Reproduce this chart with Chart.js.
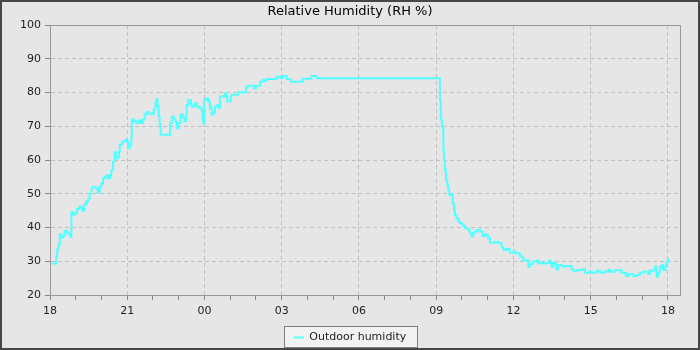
<!DOCTYPE html>
<html>
<head>
<meta charset="utf-8">
<script src="https://cdn.jsdelivr.net/npm/chart.js@4/dist/chart.umd.min.js"></script>
<style>
body{margin:0;background:#fff;}
#wrap{position:relative;width:700px;height:350px;background:#e6e6e6;}
#wrap canvas{position:absolute;left:0;top:0;}
#frame{position:absolute;left:0;top:0;width:700px;height:350px;box-sizing:border-box;border:2px solid #474747;pointer-events:none;}
</style>
</head>
<body>
<div id="wrap">
  <canvas id="myChart" width="700" height="350"></canvas>
  <div id="frame"></div>
</div>
<script>
// hours since 18:00, and the reading that starts at that time
const hours=[0.05,0.24,0.28,0.33,0.38,0.43,0.50,0.57,0.66,0.72,0.80,0.83,0.90,0.98,1.05,1.14,1.20,1.26,1.32,1.40,
1.48,1.54,1.61,1.66,1.80,1.86,1.93,1.99,2.06,2.12,2.18,2.25,2.33,2.38,2.45,2.51,2.56,2.64,2.68,2.71,
2.78,2.83,2.93,2.98,3.03,3.10,3.16,3.18,3.26,3.35,3.45,3.52,3.60,3.68,3.75,3.81,3.95,4.03,4.10,4.13,
4.18,4.22,4.26,4.30,4.66,4.73,4.82,4.87,4.92,4.98,5.07,5.17,5.22,5.28,5.31,5.37,5.47,5.50,5.58,5.63,
5.70,5.80,5.89,5.93,5.95,5.99,6.08,6.15,6.21,6.28,6.35,6.41,6.50,6.54,6.60,6.75,6.80,6.84,6.88,7.02,
7.05,7.31,7.61,7.70,7.92,8.00,8.16,8.26,8.35,8.41,8.80,8.93,9.03,9.19,9.35,9.81,10.16,10.36,15.15,15.18,
15.22,15.26,15.28,15.30,15.34,15.38,15.43,15.47,15.51,15.60,15.64,15.69,15.73,15.79,15.86,15.92,15.99,16.05,16.12,16.25,
16.31,16.38,16.44,16.50,16.60,16.70,16.80,16.90,16.96,17.02,17.09,17.30,17.40,17.48,17.54,17.61,17.75,17.86,18.00,18.10,
18.25,18.38,18.50,18.58,18.64,18.77,18.90,18.96,19.03,19.15,19.25,19.39,19.44,19.48,19.55,19.62,19.68,19.74,19.87,19.94,
20.00,20.26,20.32,20.50,20.71,20.78,20.95,21.05,21.23,21.36,21.55,21.68,21.75,21.95,22.14,22.20,22.37,22.46,22.65,22.80,
22.91,23.04,23.24,23.30,23.45,23.50,23.56,23.62,23.69,23.76,23.82,23.90,23.95,24.01,24.05];
const humidity=[29.3,31.5,33.5,35,38,37,37.5,39,38.5,38,37.2,44.5,43.8,44.3,45.5,46.2,45.8,45,46.8,47.8,
48.5,50,51.5,52,51.5,50.3,52,53,54.5,55,55.5,54.5,55.5,57,59.5,62.3,60.5,61,62.5,64.5,
65,65.5,66,65.5,63.5,64.5,67,72,71.5,71,71.8,71,72,73.5,74.2,73.8,73.6,75,77,78,
76,73,70.5,67.5,70.9,72.8,72,71.4,69.4,71,73.5,72.5,71.5,73,76.3,77.8,76.5,75.8,76.2,76.8,
75.8,75.5,74.3,72,70.9,77.8,78.3,77.3,75.3,73.5,74,75.8,76.3,75.5,78.8,79,79.8,78.8,77.3,78.8,
79.3,80.1,81.7,82,81.2,82,83.2,83.7,83.4,84,84.7,84.2,84.9,84,83.2,84.1,84.9,84.2,77.8,71.9,
70,69,63,60,57,54,52.6,51.1,49.6,49.8,47.2,45.2,43.7,42.7,41.7,41.3,41,40.5,39.8,39.2,
38.3,37.3,38.3,38.8,39.3,38.8,37.5,38,37.6,36.8,35.5,35.7,35.5,35.3,34.3,33.3,33.6,32.5,32.8,32.4,
31.4,30.2,30.3,28.4,29.2,29.9,30.2,29.4,29.6,29.3,29.5,30.2,29.5,28.4,29.6,29.2,27.6,28.9,28.7,28.4,
28.6,27.6,27.2,27.4,27.6,26.6,27,26.6,27.2,26.6,27,27.4,26.9,27.3,27.4,26.6,25.6,26.2,25.6,25.9,
26.6,26.9,26.2,27.2,27.5,28.4,25.4,26.6,28.4,28.9,27.4,28.4,29.9,30.7,30.7];
// x axis: labelled every 3 hours starting at 18
const hourLabels=['18','21','00','03','06','09','12','15','18'];
const yTicks=[20,30,40,50,60,70,80,90,100];

const font={family:'DejaVu Sans',size:11};
const points=hours.map((h,i)=>({x:h,y:humidity[i]}));

// border round the plot area (top and right too) plus the legend box
const frames={
    id:'frames',
    beforeDraw(chart){
        const c=chart.ctx;
        const lg=chart.legend;
        if(lg&&lg.legendHitBoxes.length){
            const hb=lg.legendHitBoxes[0];
            const x=Math.round(hb.left-10)+0.5, y=Math.round(hb.top-6)+0.5;
            const w=Math.round(hb.width+21), h=21;
            c.save();
            c.fillStyle='#f2f2f2';
            c.fillRect(x,y,w,h);
            c.strokeStyle='#808080';
            c.lineWidth=1;
            c.strokeRect(x,y,w,h);
            c.restore();
        }
    },
    beforeDatasetsDraw(chart){
        const a=chart.chartArea, c=chart.ctx;
        c.save();
        c.strokeStyle='#999';
        c.lineWidth=1;
        c.strokeRect(Math.round(a.left)+0.5,Math.round(a.top)+0.5,Math.round(a.right-a.left),Math.round(a.bottom-a.top));
        c.restore();
    }
};

const ctx=document.getElementById('myChart').getContext('2d');
const myChart=new Chart(ctx,{
    type:'line',
    data:{
        datasets:[{
            label:'Outdoor humidity',
            data:points,
            stepped:true,
            borderColor:'#55ffff',
            backgroundColor:'#55ffff',
            borderWidth:2,
            pointRadius:0,
            fill:false
        }]
    },
    options:{
        responsive:false,
        animation:false,
        layout:{padding:{left:0,right:0,top:0,bottom:-3}},
        scales:{
            x:{
                type:'linear',
                min:0,
                max:24.47,
                afterFit(s){ s.height=31; },
                ticks:{
                    stepSize:1,
                    includeBounds:false,
                    autoSkip:false,
                    maxRotation:0,
                    padding:5,
                    color:'#222',
                    font:font,
                    callback:(v)=>v%3===0?hourLabels[v/3]:''
                },
                grid:{
                    color:(c)=>c.tick&&c.tick.value%3===0?'#c0c0c0':'rgba(0,0,0,0)',
                    tickColor:'#888',
                    tickLength:5,
                    tickWidth:1
                },
                border:{color:'#999',dash:[4,3]}
            },
            y:{
                min:yTicks[0],
                max:yTicks[yTicks.length-1],
                afterFit(s){ s.width=50; },
                ticks:{
                    stepSize:10,
                    padding:4,
                    color:'#222',
                    font:font
                },
                grid:{
                    color:'#c0c0c0',
                    tickColor:'#888',
                    tickLength:5,
                    tickWidth:1
                },
                border:{color:'#999',dash:[4,3]}
            },
            // empty right axis, only keeps a 20px margin so title and legend stay centred on the page
            yRight:{
                position:'right',
                afterFit(s){ s.width=20; },
                ticks:{display:false},
                grid:{display:false},
                border:{display:false}
            }
        },
        plugins:{
            title:{
                display:true,
                text:'Relative Humidity (RH %)',
                color:'#000',
                font:{family:'DejaVu Sans',size:13,weight:'normal'},
                padding:{top:4,bottom:5.4}
            },
            legend:{
                position:'bottom',
                labels:{
                    usePointStyle:true,
                    pointStyle:'line',
                    pointStyleWidth:10,
                    padding:6,
                    color:'#222',
                    font:font
                }
            },
            tooltip:{enabled:false}
        }
    },
    plugins:[frames]
});
</script>
</body>
</html>
